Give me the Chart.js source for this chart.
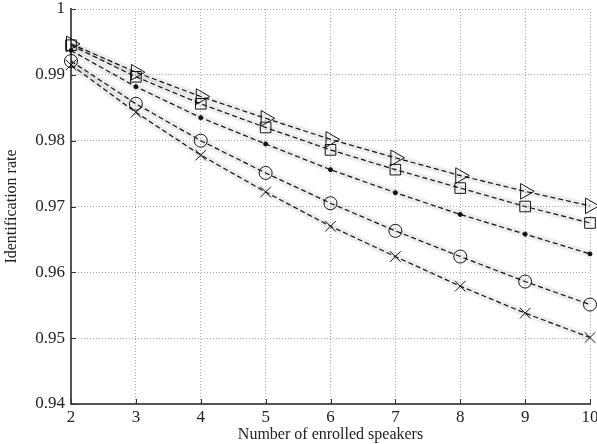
<!DOCTYPE html>
<html>
<head>
<meta charset="utf-8">
<script src="https://cdn.jsdelivr.net/npm/chart.js@4"></script>
<style>
  html, body { margin: 0; padding: 0; background: #fff; }
  #wrap { width: 597px; height: 444px; }
</style>
</head>
<body>
<div id="wrap"><canvas id="chart" width="597" height="444"></canvas></div>
<script>
// enrolled speakers (x) and identification rate per system
const speakers = [2, 3, 4, 5, 6, 7, 8, 9, 10];
const rateTriangle = [0.9947, 0.9904, 0.9867, 0.9834, 0.9802, 0.9774, 0.9747, 0.9723, 0.9701];
const rateSquare   = [0.9945, 0.9897, 0.9856, 0.9820, 0.9786, 0.9756, 0.9728, 0.9700, 0.9675];
const rateDot      = [0.9937, 0.9882, 0.9835, 0.9795, 0.9756, 0.9721, 0.9688, 0.9658, 0.9628];
const rateCircle   = [0.9921, 0.9856, 0.9800, 0.9751, 0.9705, 0.9663, 0.9624, 0.9586, 0.9551];
const rateCross    = [0.9915, 0.9843, 0.9778, 0.9722, 0.9670, 0.9624, 0.9579, 0.9538, 0.9501];
const yTicks = [0.94, 0.95, 0.96, 0.97, 0.98, 0.99, 1];

const FONT = "'Liberation Serif', 'DejaVu Serif', serif";
const ink = "#111";

function pts(ys) {
    return speakers.map((x, i) => ({x: x, y: ys[i]}));
}

// grey band drawn under each dashed line
function band(ys) {
    return {
        data: pts(ys),
        borderColor: "rgba(0,0,0,0.07)",
        borderWidth: 7,
        pointRadius: 0,
        tension: 0,
        clip: false,
        order: 10,
    };
}

function series(ys, style, radius, rotation) {
    return {
        data: pts(ys),
        borderColor: ink,
        borderWidth: 1.2,
        borderDash: [5, 3],
        pointStyle: style,
        pointRadius: radius,
        pointRotation: rotation || 0,
        pointBorderColor: ink,
        pointBorderWidth: 1,
        pointBackgroundColor: style === "circle" && radius < 3 ? ink : "rgba(0,0,0,0)",
        tension: 0,
        clip: false,
        order: 1,
    };
}

// small inward ticks on left and bottom axes
const innerTicks = {
    id: "innerTicks",
    afterDraw(chart) {
        const {ctx, scales: {x, y}, chartArea: a} = chart;
        ctx.save();
        ctx.strokeStyle = "#333";
        ctx.lineWidth = 1;
        ctx.beginPath();
        speakers.forEach(v => {
            const px = Math.round(x.getPixelForValue(v)) + 0.5;
            ctx.moveTo(px, a.bottom);
            ctx.lineTo(px, a.bottom - 5);
        });
        yTicks.forEach(v => {
            const py = Math.round(y.getPixelForValue(v)) + 0.5;
            ctx.moveTo(a.left, py);
            ctx.lineTo(a.left + 5, py);
        });
        ctx.stroke();
        ctx.restore();
    }
};

new Chart(document.getElementById("chart"), {
    type: "line",
    data: {
        datasets: [
            band(rateTriangle), band(rateSquare), band(rateDot), band(rateCircle), band(rateCross),
            series(rateTriangle, "triangle", 9, 90),
            series(rateSquare, "rect", 7.5),
            series(rateDot, "circle", 2),
            series(rateCircle, "circle", 6.5),
            series(rateCross, "crossRot", 7.5),
        ],
    },
    options: {
        responsive: false,
        animation: false,
        layout: {autoPadding: false, padding: {top: 9, right: 7, left: 0, bottom: 0}},
        plugins: {legend: {display: false}, tooltip: {enabled: false}},
        scales: {
            x: {
                type: "linear",
                min: 2,
                max: 10,
                afterBuildTicks: (s) => { s.ticks = speakers.map(v => ({value: v})); },
                afterFit: (s) => { s.height = 40; s.paddingLeft = 0; s.paddingRight = 0; },
                ticks: {color: "#222", font: {family: FONT, size: 17}, padding: 3},
                grid: {color: "#aaa", lineWidth: 1, drawTicks: false},
                border: {display: true, color: "#555", width: 2, dash: [1, 2]},
                title: {display: true, text: "Number of enrolled speakers", color: "#222",
                        font: {family: FONT, size: 16}, padding: {top: 0, bottom: 0}},
            },
            y: {
                min: 0.94,
                max: 1,
                afterBuildTicks: (s) => { s.ticks = yTicks.map(v => ({value: v})); },
                afterFit: (s) => { s.width = 71; s.paddingTop = 0; s.paddingBottom = 0; },
                ticks: {color: "#222", font: {family: FONT, size: 17}, padding: 6,
                        callback: (v) => String(parseFloat(v.toFixed(2)))},
                grid: {color: "#aaa", lineWidth: 1, drawTicks: false},
                border: {display: true, color: "#555", width: 2, dash: [1, 2]},
                title: {display: true, text: "Identification rate", color: "#222",
                        font: {family: FONT, size: 16}, padding: {top: 2, bottom: 4}},
            },
        },
    },
    plugins: [innerTicks],
});
</script>
</body>
</html>
